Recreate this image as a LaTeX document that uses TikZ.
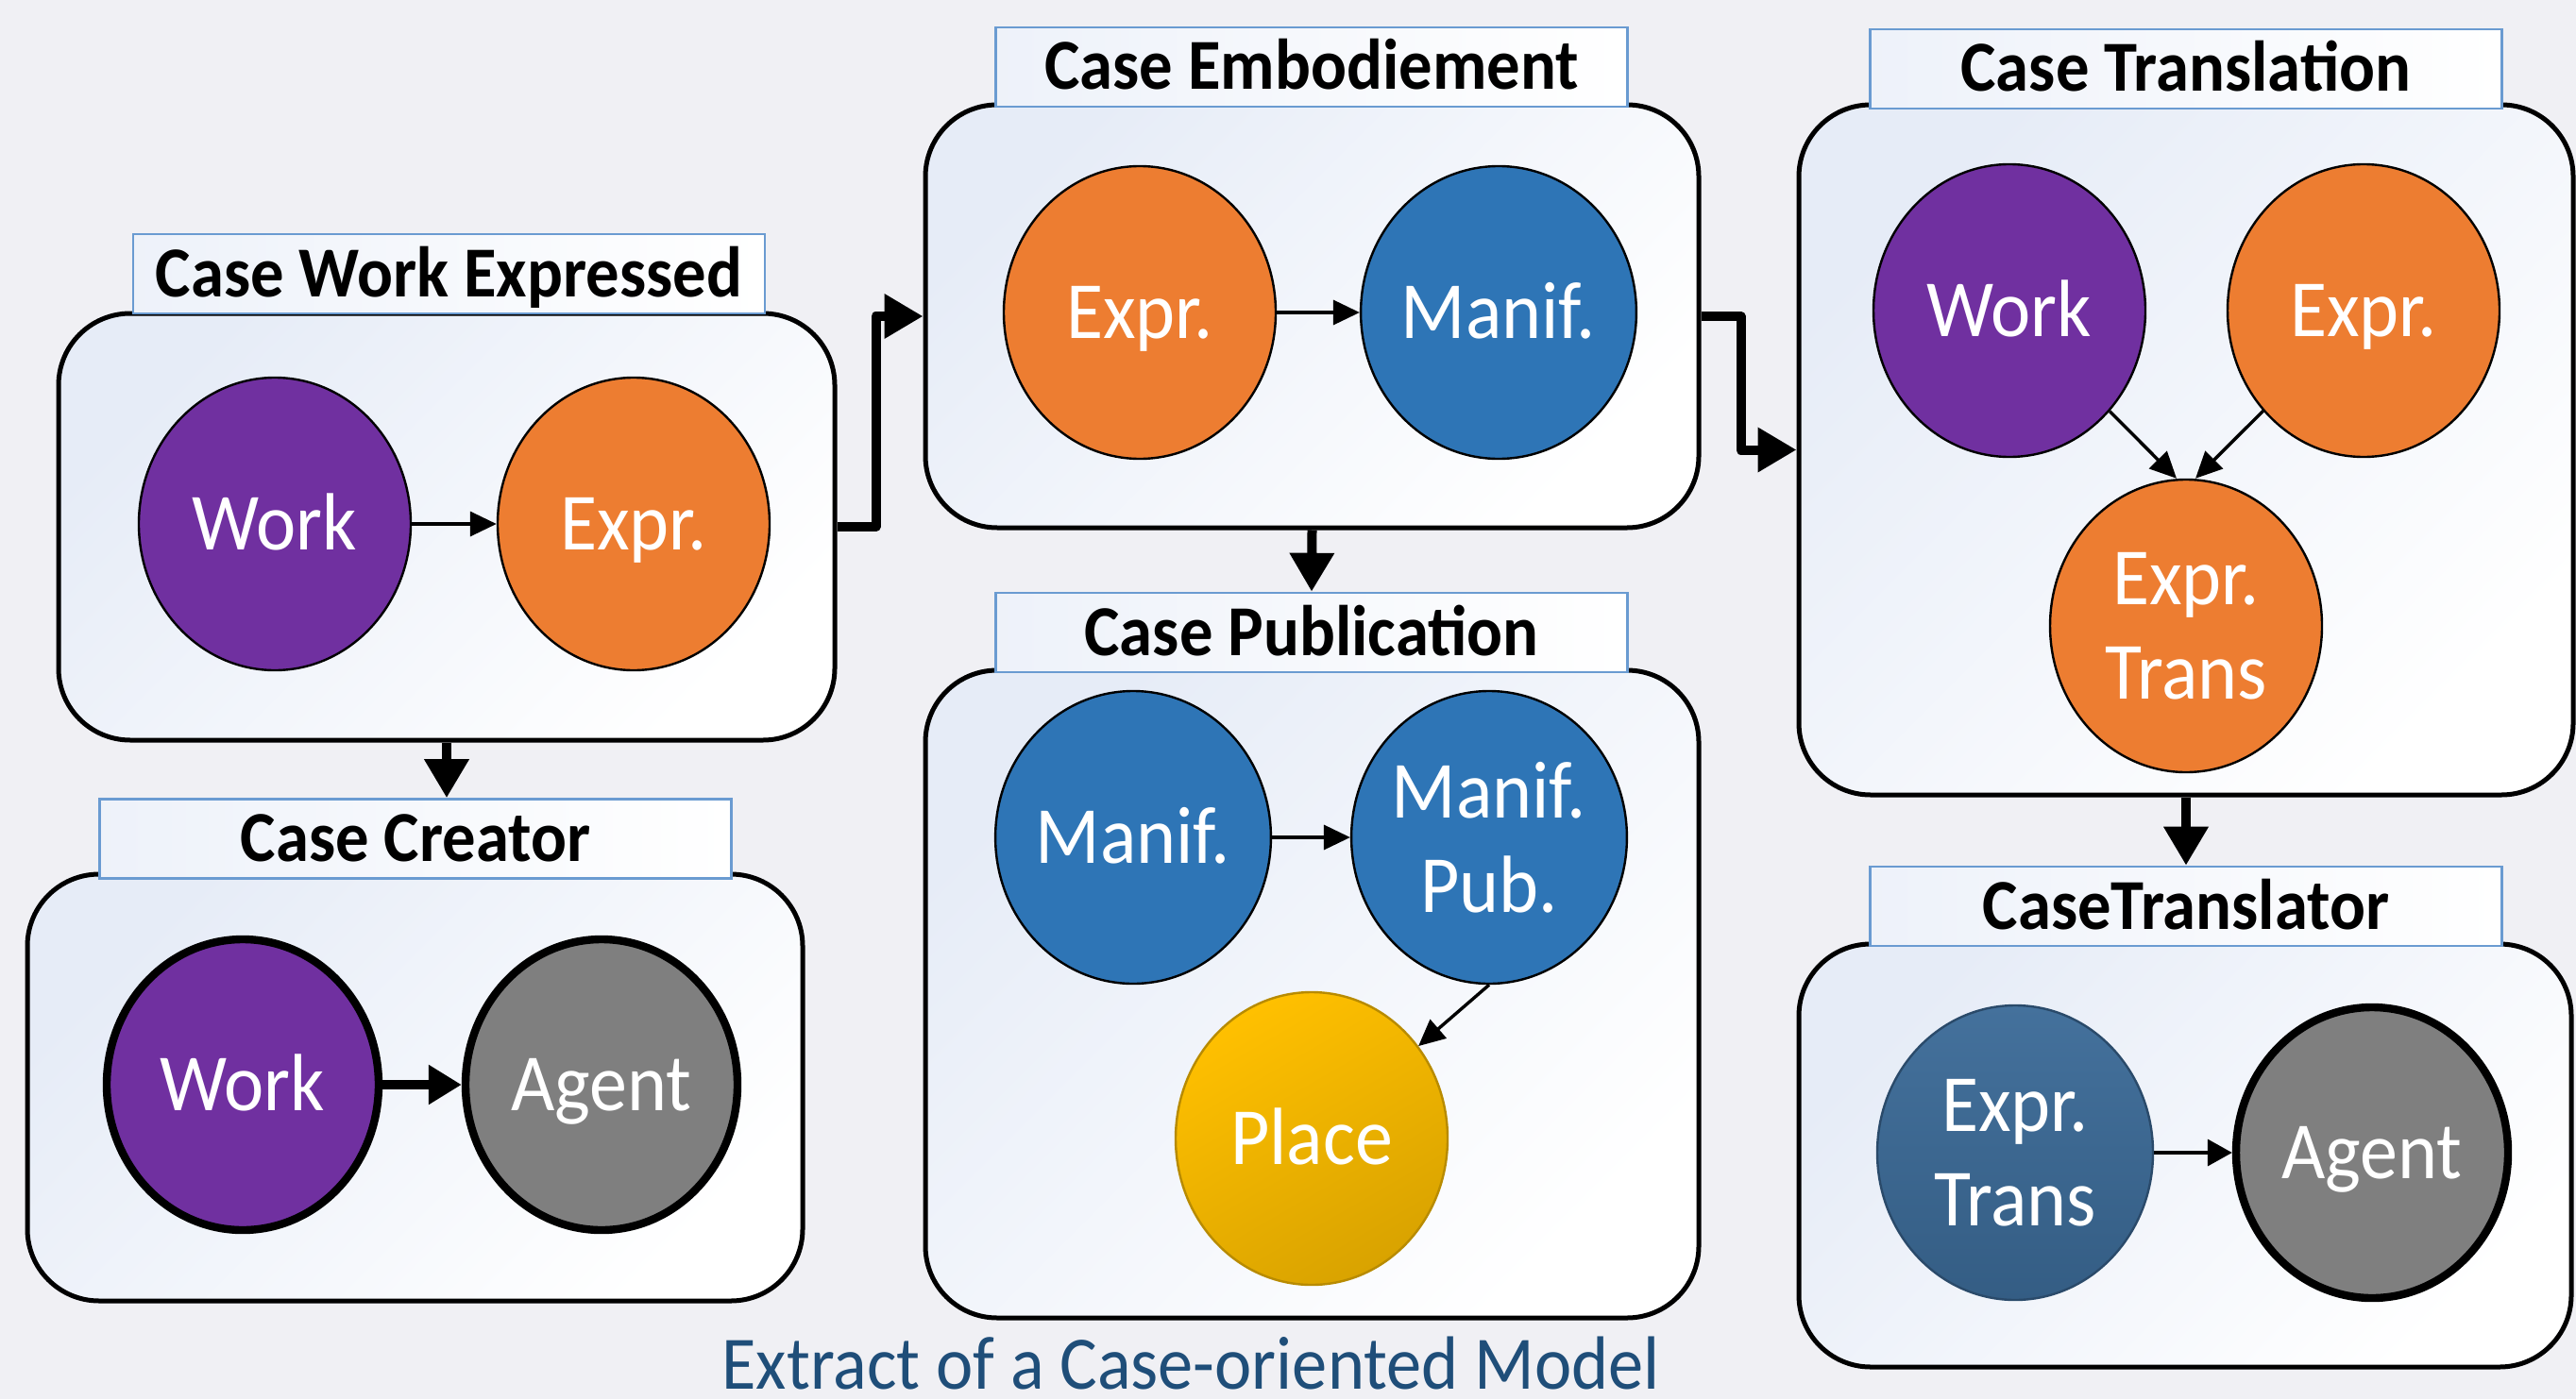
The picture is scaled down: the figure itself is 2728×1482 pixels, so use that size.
\documentclass[tikz,border=0pt]{standalone}
\usepackage{fontspec}
\setmainfont{Carlito}[FakeStretch=0.93]
\usetikzlibrary{shapes.geometric,arrows.meta,calc}
\definecolor{bg}{HTML}{F0F0F4}
\definecolor{purp}{HTML}{7030A0}
\definecolor{orng}{HTML}{ED7D31}
\definecolor{blu}{HTML}{2E75B6}
\definecolor{gry}{HTML}{7F7F7F}
\definecolor{titleblue}{HTML}{6A9BD1}
\definecolor{capblue}{HTML}{1F4E79}
\definecolor{boxtint}{HTML}{E6ECF7}
\definecolor{gold1}{HTML}{FFC000}
\definecolor{gold2}{HTML}{D9A300}
\definecolor{dblue1}{HTML}{44719C}
\definecolor{dblue2}{HTML}{345D84}
\begin{document}
\begin{tikzpicture}[x=0.5pt,y=-0.5pt,
  rbox/.style={draw=black, line width=2.5pt, rounded corners=38pt, top color=boxtint, bottom color=white, shading angle=45, inner sep=0pt},
  tbox/.style={draw=titleblue, line width=1.3pt, left color=boxtint!70, right color=white, inner sep=0pt, minimum width=334.5pt, minimum height=42pt, font=\fontsize{38pt}{40pt}\selectfont\bfseries, text height=24pt, text depth=0pt},
  ent/.style={ellipse, draw=black, line width=1.2pt, inner sep=0pt, minimum width=144pt, minimum height=155pt, text=white, font=\fontsize{43pt}{50pt}\selectfont, align=center},
  one/.style={text height=27.2pt, text depth=0pt},
  thickent/.style={line width=4.2pt, minimum width=144pt, minimum height=154pt},
  inarrow/.style={line width=1.7pt, -{Triangle[length=14pt,width=13pt]}},
  bigarrow/.style={line width=5pt, line join=round, -{Triangle[length=20.5pt,width=22.5pt]}},
]
\fill[bg] (0,0) rectangle (2728,1482);
\useasboundingbox (0,0) rectangle (2728,1482);

% Case Work Expressed
\node[rbox, minimum width=411pt, minimum height=226pt] (cwe) at (473,558) {};
\node[tbox] (cwet) at (475.5,290) {Case Work Expressed};
\node[ent, one, fill=purp] (w1) at (291,555) {Work};
\node[ent, one, fill=orng] (e1) at (671,555) {Expr.};
\draw[inarrow] (w1) -- (e1);

% Case Creator
\node[rbox, minimum width=410.5pt, minimum height=226pt] (cc) at (439.5,1152) {};
\node[tbox] (cct) at (440,888.5) {Case Creator};
\node[ent, one, fill=purp, thickent] (w2) at (257,1149) {Work};
\node[ent, one, fill=gry, thickent] (a2) at (637,1149) {Agent};
\draw[line width=5pt, -{Triangle[length=17.5pt,width=20pt]}] (w2) -- (a2);

% Case Embodiement
\node[rbox, minimum width=409.5pt, minimum height=224pt] (ce) at (1389.5,335) {};
\node[tbox] (cet) at (1389,71) {Case Embodiement};
\node[ent, one, fill=orng] (e3) at (1207,331) {Expr.};
\node[ent, one, fill=blu] (m3) at (1587,331) {Manif.};
\draw[inarrow] (e3) -- (m3);

% Case Publication
\node[rbox, minimum width=409.5pt, minimum height=343pt] (cp) at (1389.5,1053) {};
\node[tbox] (cpt) at (1389,670) {Case Publication};
\node[ent, one, fill=blu] (m4) at (1200,887) {Manif.};
\node[ent, fill=blu] (mp4) at (1577,887) {Manif.\\Pub.};
\node[ent, one, draw=gold2!85!black, top color=gold1, bottom color=gold2, shading angle=30] (pl4) at (1389,1206) {Place};
\draw[inarrow] (m4) -- (mp4);
\draw[inarrow] (mp4.south) -- (pl4);

% Case Translation
\node[rbox, minimum width=410pt, minimum height=365.5pt] (ct) at (2315,476.5) {};
\node[tbox] (ctt) at (2315,73) {Case Translation};
\node[ent, one, fill=purp] (w5) at (2128,329) {Work};
\node[ent, one, fill=orng] (e5) at (2503,329) {Expr.};
\node[ent, fill=orng] (et5) at (2315,663) {Expr.\\Trans};
\draw[inarrow] (w5) -- ([xshift=-5pt]et5.north);
\draw[inarrow] (e5) -- ([xshift=5pt]et5.north);

% CaseTranslator
\node[rbox, minimum width=409pt, minimum height=224pt] (ctr) at (2314,1224) {};
\node[tbox] (ctrt) at (2315,960) {CaseTranslator};
\node[ent, draw=dblue2!80!black, top color=dblue1, bottom color=dblue2, minimum width=146pt, minimum height=156pt] (et6) at (2134,1221) {Expr.\\Trans};
\node[ent, one, fill=gry, thickent] (a6) at (2512,1221) {Agent};
\draw[line width=1.8pt, -{Triangle[length=13pt,width=14pt]}] (et6) -- (a6);

% connectors between cases
\draw[bigarrow] (cwe.east) -- ++(41,0) |- (ce.west);
\draw[bigarrow] (ce.east) -- ++(42,0) |- (ct.west);
\draw[bigarrow] (ce.south) -- (cpt.north);
\draw[bigarrow] (cwe.south) -- (cwe.south |- cct.north);
\draw[bigarrow] (ct.south) -- (ctrt.north);

% caption
\node[anchor=base, text=capblue, font=\fontsize{40pt}{44pt}\selectfont] (cap) at (1261,1471) {Extract of a Case-oriented Model};
\end{tikzpicture}
\end{document}
